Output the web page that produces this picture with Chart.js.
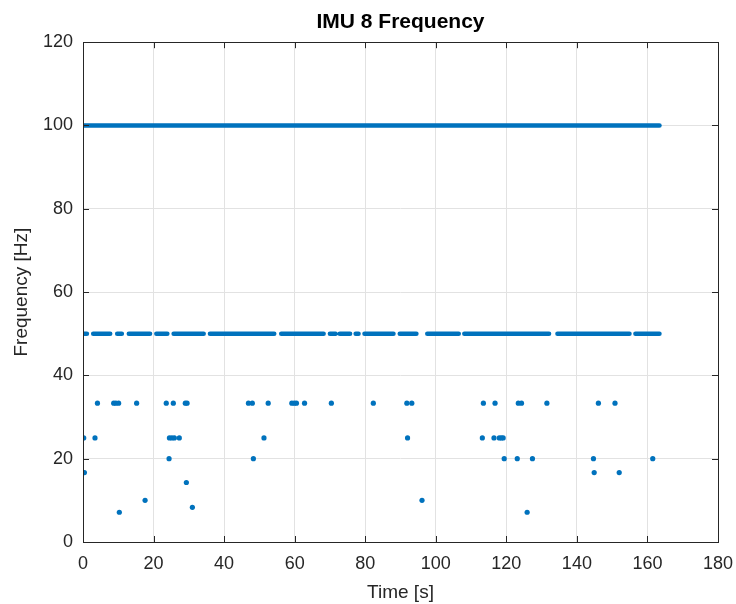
<!DOCTYPE html>
<html>
<head>
<meta charset="utf-8">
<script src="https://cdn.jsdelivr.net/npm/chart.js@4.4.1/dist/chart.umd.min.js"></script>
<style>
  html, body { margin: 0; padding: 0; background: #ffffff; }
  #wrap { width: 736px; height: 604px; }
</style>
</head>
<body>
<div id="wrap"><canvas id="freqChart" width="736" height="604"></canvas></div>
<script>
// runs of consecutive samples at 100 Hz and 50 Hz, [start s, end s]
const runs100 = [[0, 163.4]];
const runs50 = [
    [0.3, 1.1], [2.9, 7.7], [9.7, 11.0], [13.0, 19.0], [20.8, 23.9], [25.7, 34.2],
    [36.0, 54.2], [56.2, 68.2], [70.0, 71.6], [72.8, 75.7], [77.3, 78.1], [79.8, 88.0],
    [89.8, 94.5], [97.6, 106.5], [108.1, 132.1], [134.5, 154.9], [156.6, 163.4]
];

// isolated low-rate samples
const lowTimes = [
    4.1, 8.7, 9.3, 10.1, 15.2, 23.6, 25.6, 29.0, 29.5, 46.9, 48.0, 52.5, 59.2, 59.9, 60.5,
    62.8, 70.4, 82.3, 91.8, 93.2, 113.5, 116.8, 123.4, 124.3, 131.5, 146.1, 150.8,
    0.2, 3.4, 24.5, 25.2, 25.9, 27.3, 51.3, 92.0, 113.2, 116.5, 118.0, 118.6, 119.1,
    24.4, 48.3, 119.4, 123.1, 127.4, 144.7, 161.5,
    0.4, 144.9, 152.0,
    29.3,
    17.6, 96.1,
    31.0,
    10.3, 125.9
];
const lowFreqs = [
    33.33, 33.33, 33.33, 33.33, 33.33, 33.33, 33.33, 33.33, 33.33, 33.33, 33.33, 33.33, 33.33, 33.33, 33.33,
    33.33, 33.33, 33.33, 33.33, 33.33, 33.33, 33.33, 33.33, 33.33, 33.33, 33.33, 33.33,
    25, 25, 25, 25, 25, 25, 25, 25, 25, 25, 25, 25, 25,
    20, 20, 20, 20, 20, 20, 20,
    16.67, 16.67, 16.67,
    14.29,
    10, 10,
    8.33,
    7.14, 7.14
];

const xTicks = { min: 0, max: 180, step: 20 };
const yTicks = { min: 0, max: 120, step: 20 };

const blue = '#0072BD';
const ink = '#262626';
const fontFamily = '"Liberation Sans", Arial, Helvetica, sans-serif';
const titleFont = { family: fontFamily, size: 21, weight: 'bold' };

function runsToLine(runs, level) {
    const pts = [];
    runs.forEach(([a, b]) => {
        pts.push({ x: a, y: level });
        pts.push({ x: b, y: level });
        pts.push({ x: (a + b) / 2, y: null });
    });
    return pts;
}

const lineStyle = {
    showLine: true,
    borderColor: blue,
    backgroundColor: blue,
    borderWidth: 4.6,
    borderCapStyle: 'round',
    pointRadius: 0,
    spanGaps: false
};

// box, inward tick marks and a title centred over the plot area
const boxPlugin = {
    id: 'box',
    afterDraw(chart) {
        const { ctx, chartArea: a, scales } = chart;
        const len = 6;
        ctx.save();
        ctx.strokeStyle = ink;
        ctx.lineWidth = 1;
        ctx.beginPath();
        scales.x.ticks.forEach(t => {
            const px = Math.round(scales.x.getPixelForValue(t.value)) + 0.5;
            ctx.moveTo(px, a.bottom); ctx.lineTo(px, a.bottom - len);
            ctx.moveTo(px, a.top); ctx.lineTo(px, a.top + len);
        });
        scales.y.ticks.forEach(t => {
            const py = Math.round(scales.y.getPixelForValue(t.value)) + 0.5;
            ctx.moveTo(a.left, py); ctx.lineTo(a.left + len, py);
            ctx.moveTo(a.right, py); ctx.lineTo(a.right - len, py);
        });
        ctx.stroke();
        ctx.strokeRect(Math.round(a.left) + 0.5, Math.round(a.top) + 0.5,
            Math.round(a.right - a.left), Math.round(a.bottom - a.top));

        ctx.fillStyle = '#000000';
        ctx.font = 'bold ' + titleFont.size + 'px ' + titleFont.family;
        ctx.textAlign = 'center';
        ctx.textBaseline = 'middle';
        ctx.fillText(chart.options.plugins.title.text, (a.left + a.right) / 2, 22);
        ctx.restore();
    }
};

const ctx = document.getElementById('freqChart').getContext('2d');

new Chart(ctx, {
    type: 'scatter',
    data: {
        datasets: [
            Object.assign({ label: '100 Hz', data: runsToLine(runs100, 100) }, lineStyle),
            Object.assign({ label: '50 Hz', data: runsToLine(runs50, 50) }, lineStyle),
            {
                label: 'low',
                data: lowTimes.map((t, i) => ({ x: t, y: lowFreqs[i] })),
                pointRadius: 2.6,
                pointBorderWidth: 0,
                backgroundColor: blue,
                borderColor: blue,
                showLine: false
            }
        ]
    },
    options: {
        responsive: false,
        animation: false,
        events: [],
        layout: { padding: { left: 0, right: 18, top: 0, bottom: 0 } },
        plugins: {
            legend: { display: false },
            tooltip: { enabled: false },
            title: {
                // block kept for spacing; text painted by boxPlugin
                display: true,
                text: 'IMU 8 Frequency',
                color: 'rgba(0,0,0,0)',
                font: titleFont,
                padding: { top: 9, bottom: 8 }
            }
        },
        scales: {
            x: {
                type: 'linear',
                min: xTicks.min,
                max: xTicks.max,
                afterFit: s => { s.height = 62; s.paddingLeft = 0; s.paddingRight = 0; },
                ticks: {
                    stepSize: xTicks.step,
                    color: ink,
                    padding: 11,
                    maxRotation: 0,
                    font: { family: fontFamily, size: 18 }
                },
                grid: { color: '#e2e2e2', drawTicks: false },
                border: { display: false },
                title: {
                    display: true,
                    text: 'Time [s]',
                    color: ink,
                    font: { family: fontFamily, size: 19 },
                    padding: { top: 0, bottom: 0 }
                }
            },
            y: {
                type: 'linear',
                min: yTicks.min,
                max: yTicks.max,
                afterFit: s => { s.width = 83; },
                ticks: {
                    stepSize: yTicks.step,
                    color: ink,
                    padding: 10,
                    font: { family: fontFamily, size: 18 }
                },
                grid: { color: '#e2e2e2', drawTicks: false },
                border: { display: false },
                title: {
                    display: true,
                    text: 'Frequency [Hz]',
                    color: ink,
                    font: { family: fontFamily, size: 19 },
                    padding: { top: 10, bottom: 0 }
                }
            }
        }
    },
    plugins: [boxPlugin]
});
</script>
</body>
</html>
